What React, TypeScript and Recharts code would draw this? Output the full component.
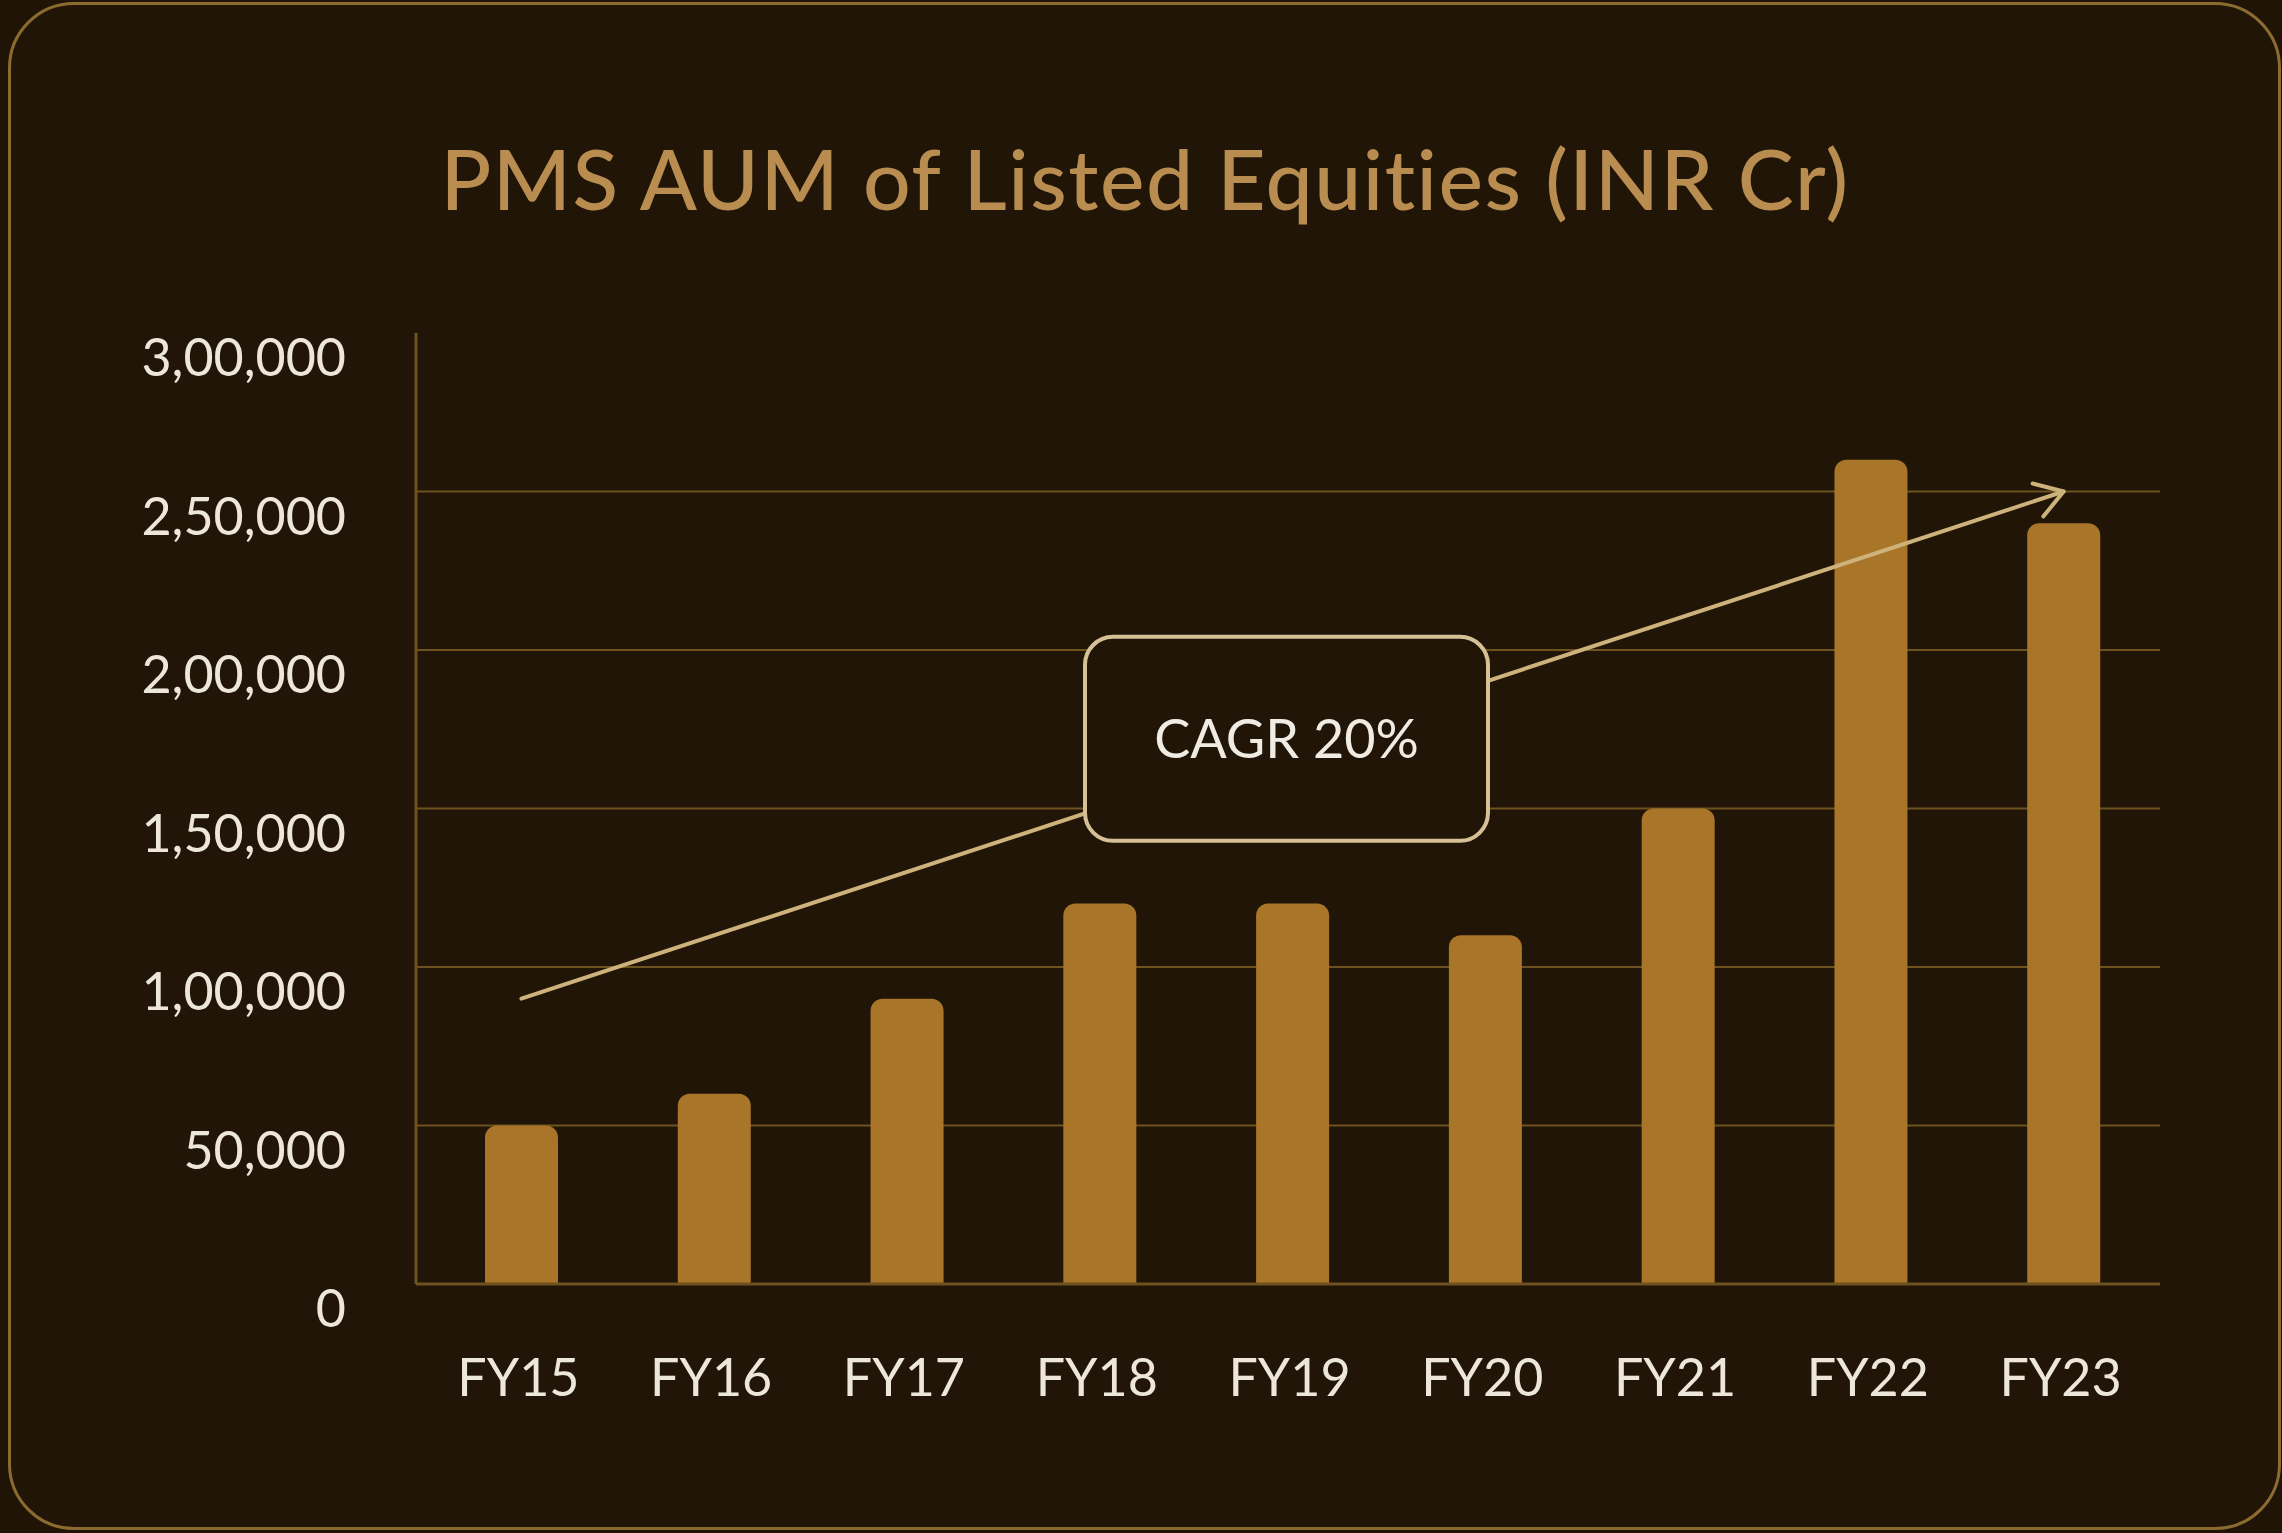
import React from 'react';
import { ComposedChart, Bar, XAxis, YAxis, CartesianGrid, ReferenceLine, ReferenceDot } from 'recharts';

const title = 'PMS AUM of Listed Equities (INR Cr)';
const categories = ['FY15', 'FY16', 'FY17', 'FY18', 'FY19', 'FY20', 'FY21', 'FY22', 'FY23'];
const aumValues = [50000, 60000, 90000, 120000, 120000, 110000, 150000, 260000, 240000];
const yTicks = [0, 50000, 100000, 150000, 200000, 250000, 300000];
const gridValues = [50000, 100000, 150000, 200000, 250000];
const trendStart = { x: 'FY15', y: 90000 };
const trendEnd = { x: 'FY23', y: 250000 };
const cagrLabel = 'CAGR 20%';
const cagrAnchor = { x: 'FY19', y: 172000 };

const data = categories.map((c, i) => ({ fy: c, aum: aumValues[i] }));

const FONT = 'Lato, "Noto Sans", sans-serif';
const BG = '#211507';
const GOLD_LINE = '#6E5220';
const BAR = '#A97629';
const ARROW = '#CDB27B';
const TEXT = '#EDE6DA';

function formatIndian(n: number): string {
  const s = String(Math.round(n));
  if (s.length <= 3) return s;
  const last3 = s.slice(-3);
  let rest = s.slice(0, -3);
  const parts: string[] = [];
  while (rest.length > 2) {
    parts.unshift(rest.slice(-2));
    rest = rest.slice(0, -2);
  }
  if (rest) parts.unshift(rest);
  return parts.join(',') + ',' + last3;
}

const YTick = (props: any) => {
  const { x, y, payload } = props;
  return (
    <text x={x - 70} y={y + 43} textAnchor="end" fill={TEXT} fontSize={52} fontFamily={FONT}>
      {formatIndian(payload.value)}
    </text>
  );
};

const XTick = (props: any) => {
  const { x, y, payload } = props;
  return (
    <text x={x - 3} y={y + 112} textAnchor="middle" fill={TEXT} fontSize={52} fontFamily={FONT}>
      {payload.value}
    </text>
  );
};

const ArrowShape = (props: any) => {
  const { x1, y1, x2, y2 } = props;
  const ang = Math.atan2(y2 - y1, x2 - x1);
  const len = 32;
  const spread = Math.PI / 5.5;
  const ax = x2 - len * Math.cos(ang - spread);
  const ay = y2 - len * Math.sin(ang - spread);
  const bx = x2 - len * Math.cos(ang + spread);
  const by = y2 - len * Math.sin(ang + spread);
  return (
    <g>
      <line x1={x1} y1={y1} x2={x2} y2={y2} stroke={ARROW} strokeWidth={4} strokeLinecap="round" />
      <polyline
        points={`${ax},${ay} ${x2},${y2} ${bx},${by}`}
        fill="none"
        stroke={ARROW}
        strokeWidth={4}
        strokeLinecap="round"
        strokeLinejoin="round"
      />
    </g>
  );
};

const CagrBox = (props: any) => {
  const { cx, cy } = props;
  const w = 403;
  const h = 204;
  const ox = cx - 6;
  return (
    <g>
      <rect x={ox - w / 2} y={cy - h / 2} width={w} height={h} rx={28} ry={28} fill={BG} stroke="#D6C197" strokeWidth={4} />
      <text x={ox} y={cy + 19} textAnchor="middle" fill="#F1ECE3" fontSize={54} fontFamily={FONT}>
        {cagrLabel}
      </text>
    </g>
  );
};

export default function App() {
  return (
    <div style={{ position: 'absolute', left: 0, top: 0, width: 2282, height: 1533, background: '#1F1406', overflow: 'hidden' }}>
      <div
        style={{
          position: 'absolute',
          left: 8,
          top: 2,
          width: 2273,
          height: 1528,
          boxSizing: 'border-box',
          border: '3px solid #8C6B30',
          borderRadius: 66,
          background: BG,
        }}
      />
      <div
        style={{
          position: 'absolute',
          left: 0,
          top: 128,
          width: 2290,
          textAlign: 'center',
          color: '#B98C4F',
          fontFamily: FONT,
          fontSize: 84,
          fontWeight: 500,
          letterSpacing: 1.5,
          fontVariantLigatures: 'none',
          lineHeight: '100px',
        }}
      >
        {title}
      </div>
      <div style={{ position: 'absolute', left: 0, top: 0 }}>
        <ComposedChart
          width={2282}
          height={1533}
          data={data}
          margin={{ top: 333, right: 122, bottom: 129, left: 0 }}
          barCategoryGap={0}
        >
          <CartesianGrid vertical={false} horizontal stroke={GOLD_LINE} strokeWidth={2} horizontalValues={gridValues} />
          <XAxis
            dataKey="fy"
            height={120}
            tickLine={false}
            tickSize={0}
            tickMargin={0}
            axisLine={{ stroke: GOLD_LINE, strokeWidth: 3 }}
            tick={<XTick />}
            padding={{ left: 9, right: 0 }}
            interval={0}
          />
          <YAxis
            width={416}
            domain={[0, 300000]}
            ticks={yTicks}
            tickLine={false}
            tickSize={0}
            tickMargin={0}
            axisLine={{ stroke: GOLD_LINE, strokeWidth: 3 }}
            tick={<YTick />}
            interval={0}
          />
          <Bar dataKey="aum" fill={BAR} barSize={73} radius={[12, 12, 0, 0]} isAnimationActive={false} />
          <ReferenceLine segment={[trendStart, trendEnd]} shape={ArrowShape} zIndex={450} ifOverflow="visible" />
          <ReferenceDot x={cagrAnchor.x} y={cagrAnchor.y} shape={CagrBox} zIndex={700} ifOverflow="visible" />
        </ComposedChart>
      </div>
    </div>
  );
}
